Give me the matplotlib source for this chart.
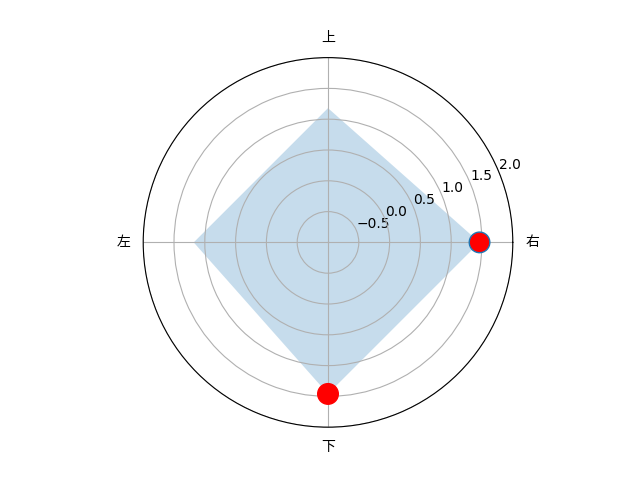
import numpy as np
import matplotlib
matplotlib.use('Agg')
import matplotlib.pyplot as plt

plt.rcParams['font.family'] = ['DejaVu Sans', 'Noto Sans CJK SC']

labels = ['右', '上', '左', '下']
values = [1.46, 1.18, 1.18, 1.46]
highlight = [0, 3]  # red points: 右, 下

theta = np.deg2rad([0, 90, 180, 270])

fig = plt.figure(figsize=(6.4, 4.8), dpi=100)
ax = fig.add_subplot(projection='polar')

ax.fill(theta, values, alpha=0.25)
ax.scatter(theta[highlight], np.array(values)[highlight], s=220, c='red',
           edgecolors=['C0', 'red'], zorder=3)

ax.set_xticks(theta)
ax.set_xticklabels(labels)
ax.set_ylim(-1, 2)
ax.set_yticks([-0.5, 0.0, 0.5, 1.0, 1.5, 2.0])

fig.savefig('out.png')
